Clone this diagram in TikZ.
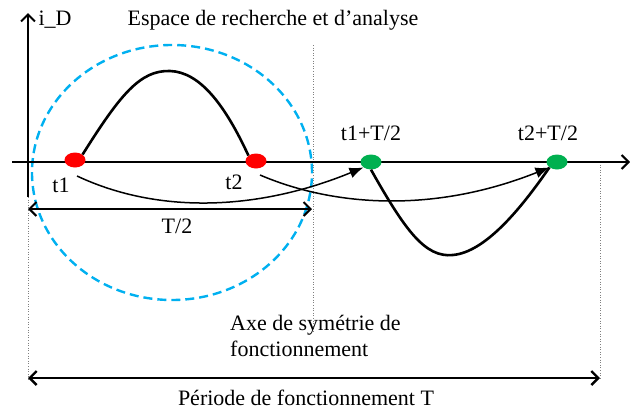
\documentclass[tikz,border=0pt]{standalone}
\usepackage{fontspec}
\setmainfont{Liberation Serif}
\usetikzlibrary{arrows.meta,shapes.geometric}
\definecolor{dotred}{RGB}{255,0,0}
\definecolor{dotgreen}{RGB}{0,176,80}
\definecolor{zoneblue}{RGB}{0,176,240}
\begin{document}
\begin{tikzpicture}[x=1pt,y=-1pt,
  lbl/.style={font=\fontsize{22}{26}\selectfont, inner sep=0pt},
  axisline/.style={line width=2.6pt, -{Straight Barb[length=7pt,width=14pt,line width=2pt]}},
  dimline/.style={line width=2pt, {Straight Barb[length=7pt,width=14pt]}-{Straight Barb[length=7pt,width=14pt]}},
  guide/.style={gray, line width=0.6pt, dotted},
  pt/.style={ellipse, minimum width=21pt, minimum height=15pt, inner sep=0pt, draw=none},
  wave/.style={line width=2.6pt},
  map/.style={line width=1.5pt, -{Latex[length=14pt,width=11pt]}},
  zone/.style={zoneblue, line width=2.4pt, dash pattern=on 9pt off 5pt}
]
\useasboundingbox (0,0) rectangle (630,410);

% search zone
\node[zone, draw, ellipse, minimum width=280pt, minimum height=255pt, inner sep=0pt] (zone) at (172,172.5) {};

% guides
\coordinate (gL1) at (28,197);
\coordinate (gL2) at (28,380);
\coordinate (gM1) at (313,45);
\coordinate (gM2) at (313,333);
\coordinate (gR1) at (600,162);
\coordinate (gR2) at (600,380);
\draw[guide] (gL1) -- (gL2);
\draw[guide] (gM1) -- (gM2);
\draw[guide] (gR1) -- (gR2);

% axes
\coordinate (xs) at (12,162);
\coordinate (xe) at (630,162);
\coordinate (ys) at (28,197);
\coordinate (ye) at (28,13);
\draw[axisline] (xs) -- (xe);
\draw[axisline] (ys) -- (ye);

% points
\node[pt, fill=dotred] (r1) at (75,160) {};
\node[pt, fill=dotred] (r2) at (256,161) {};
\node[pt, fill=dotgreen] (g1) at (371,162) {};
\node[pt, fill=dotgreen] (g2) at (557,162) {};

% waves
\draw[wave] (r1.north east) .. controls (120,95) and (140,70) .. (170,71)
  .. controls (200,72) and (225,105) .. (r2.north west);
\draw[wave] (g1.south) .. controls (405,230) and (425,258) .. (453,255)
  .. controls (485,252) and (520,210) .. (g2.south west);

% mappings
\coordinate (m1s) at (77,176);
\coordinate (m2s) at (260,175);
\draw[map] (m1s) .. controls (160,215) and (260,210) .. (g1.south west);
\draw[map] (m2s) .. controls (330,205) and (430,215) .. (g2.south west);

% dimensions
\coordinate (hL) at (28,209);
\coordinate (hR) at (312,209);
\coordinate (pL) at (28,378);
\coordinate (pR) at (600,378);
\draw[dimline] (hL) -- (hR);
\draw[dimline, line width=2.4pt] (pL) -- (pR);

% labels
\node[lbl] (iD) at (55,20) {i\_D};
\node[lbl] (title) at (273,20) {Espace de recherche et d’analyse};
\node[lbl] (t1) at (61,185) {t1};
\node[lbl] (t2) at (234,182) {t2};
\node[lbl] (t1T) at (371,133) {t1+T/2};
\node[lbl] (t2T) at (548,133) {t2+T/2};
\node[lbl] (half) at (177,226) {T/2};
\node[lbl, anchor=west, align=left] (axe) at (230,336) {Axe de symétrie de\\fonctionnement};
\node[lbl] (per) at (306,398) {Période de fonctionnement T};
\end{tikzpicture}
\end{document}
